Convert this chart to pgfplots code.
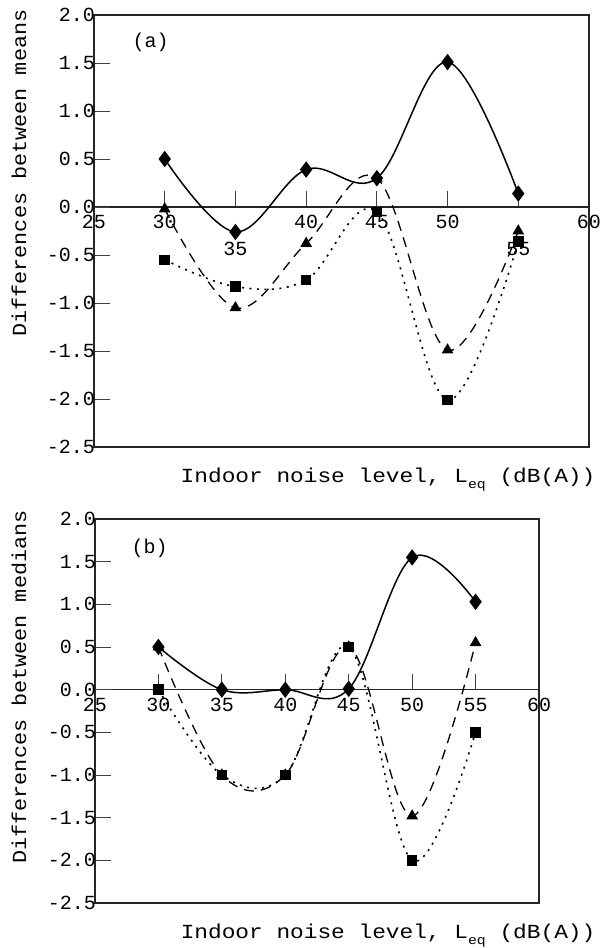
\documentclass[border=0pt]{standalone}
\usepackage{pgfplots}
\pgfplotsset{compat=1.18}
\usepackage{graphicx}
\usepackage{fontspec}
\setmainfont{Liberation Mono}
\begin{document}
\fontsize{20pt}{24pt}\selectfont
\begin{tikzpicture}
\pgfplotsset{
  myax/.style={
    scale only axis,
    xmin=25, xmax=60, ymin=-2.5, ymax=2.0,
    axis line style={line width=1.1pt, black!85},
    tick align=inside,
    xtick pos=left, ytick pos=left,
    major tick length=16pt,
    tick style={line width=0.9pt, black!75},
    xtick={25,30,35,40,45,50,55,60},
    ytick={-2.5,-2.0,-1.5,-1.0,-0.5,0.0,0.5,1.0,1.5,2.0},
    yticklabels={-2.5,-2.0,-1.5,-1.0,-0.5,0.0,0.5,1.0,1.5,2.0},
    extra y ticks={0},
    extra y tick labels={},
    extra y tick style={grid=major, major grid style={line width=1.1pt, black!85}},
    yticklabel style={anchor=east, inner sep=0pt, xshift=1pt},
    xticklabel style={anchor=north, inner sep=0pt},
    xlabel style={anchor=base, inner sep=0pt},
    ylabel style={anchor=center, inner sep=0pt},
    xlabel={\scalebox{1.14}[1]{Indoor noise level, L\raisebox{-6pt}{\fontsize{13pt}{13pt}\selectfont eq} (dB(A))}},
    every axis plot/.append style={black, smooth, tension=0.6},
  },
  sd/.style={line width=1.5pt, mark=diamond*, mark size=7pt, mark options={solid}},
  st/.style={line width=1.3pt, dash pattern=on 10pt off 7pt, mark=triangle*, mark size=5.5pt, mark options={solid}},
  ss/.style={line width=1.6pt, dash pattern=on 2pt off 5.5pt, mark=square*, mark size=4.5pt, mark options={solid}},
}
% ---------------- panel (a)
\begin{axis}[myax, at={(94pt,-447pt)}, anchor=south west, width=495pt, height=432pt,
  xtick style={yshift=240pt},
  xticklabel style={yshift=232pt},
  xticklabels={25,30,{\raisebox{-40pt}[0pt][0pt]{35}},40,45,50,{\raisebox{-40pt}[0pt][0pt]{55}},60},
  xlabel style={at={(axis description cs:0.594,0)}, yshift=-35pt},
  ylabel={\scalebox{1.09}[1]{Differences between means}},
  ylabel style={at={(axis description cs:-0.1515,0.634)}},
]
\node at (axis cs:29.0,1.72) {(a)};
\addplot[st] coordinates {(30,-0.02) (35,-1.05) (40,-0.38) (45,0.30) (50,-1.49) (55,-0.25)};
\addplot[ss] coordinates {(30,-0.55) (35,-0.83) (40,-0.76) (45,-0.05) (50,-2.01) (55,-0.36)};
\addplot[sd] coordinates {(30,0.50) (35,-0.26) (40,0.39) (45,0.30) (50,1.51) (55,0.14)};
\end{axis}
% ---------------- panel (b)
\begin{axis}[myax, at={(95pt,-903pt)}, anchor=south west, width=444pt, height=384pt,
  xtick style={yshift=213.33pt},
  xticklabel style={yshift=205.33pt},
  xticklabels={25,30,35,40,45,50,55,60},
  xlabel style={at={(axis description cs:0.66,0)}, yshift=-35pt},
  ylabel={\scalebox{1.09}[1]{Differences between medians}},
  ylabel style={at={(axis description cs:-0.171,0.5625)}},
]
\node at (axis cs:29.3,1.66) {(b)};
\addplot[st] coordinates {(30,0.50) (35,-1.00) (40,-1.00) (45,0.50) (50,-1.48) (55,0.55)};
\addplot[ss] coordinates {(30,0.00) (35,-1.00) (40,-1.00) (45,0.50) (50,-2.00) (55,-0.50)};
\addplot[sd] coordinates {(30,0.50) (35,0.00) (40,0.00) (45,0.01) (50,1.55) (55,1.03)};
\end{axis}
\pgfresetboundingbox
\path[use as bounding box] (0pt,0pt) rectangle (605pt,-948pt);
\end{tikzpicture}
\end{document}
